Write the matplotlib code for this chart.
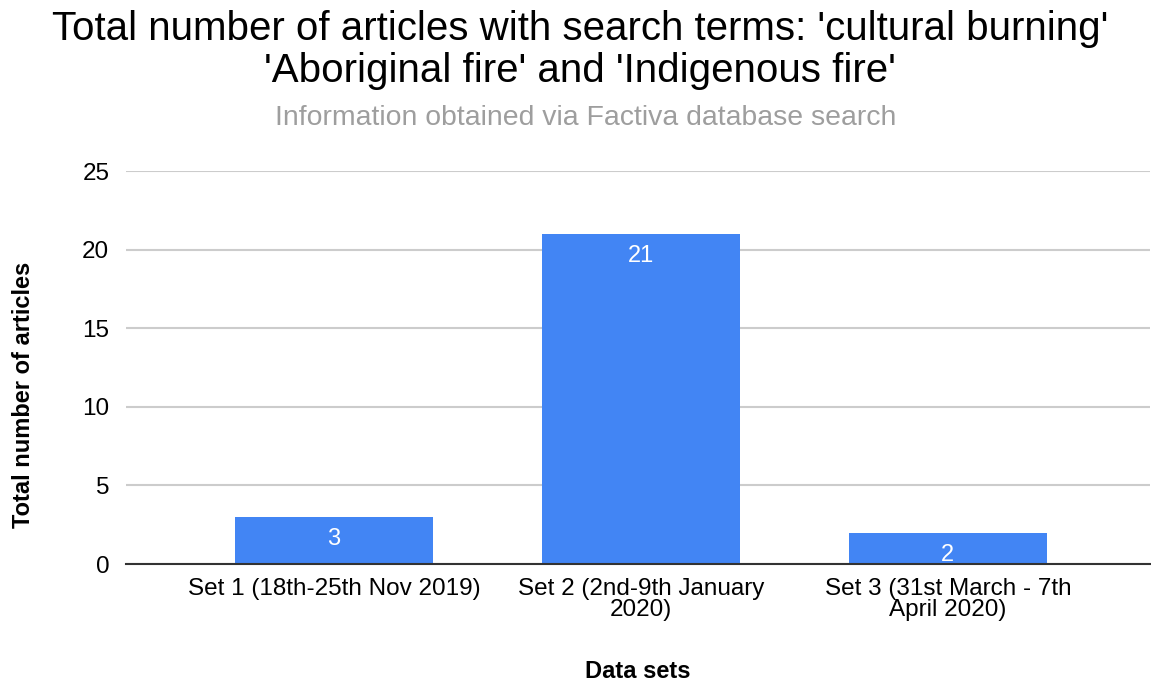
import matplotlib.pyplot as plt

plt.rcParams['font.family'] = ['Liberation Sans', 'DejaVu Sans']

# Article counts per search period
data_sets = ['Set 1 (18th-25th Nov 2019)',
             'Set 2 (2nd-9th January\n2020)',
             'Set 3 (31st March - 7th\nApril 2020)']
articles = [3, 21, 2]
y_ticks = [0, 5, 10, 15, 20, 25]

fig = plt.figure(figsize=(11.51, 6.86), dpi=100)
ax = fig.add_axes([0.1095, 0.1778, 0.89, 0.5729])

x = list(range(len(data_sets)))
bars = ax.bar(x, articles, width=0.647, color='#4285F4', zorder=3)

for rect, val in zip(bars, articles):
    ax.text(rect.get_x() + rect.get_width() / 2, val - 1.4, str(val),
            ha='center', va='center', color='white', fontsize=17, zorder=4)

ax.set_xlim(-0.678, 2.66)
ax.set_ylim(0, 25)
ax.set_yticks(y_ticks)
ax.set_xticks(x)
ax.set_xticklabels(data_sets, fontsize=17.5, linespacing=0.95)
ax.tick_params(axis='y', labelsize=17.5, length=0, pad=12)
ax.tick_params(axis='x', length=0, pad=10)

ax.grid(axis='y', color='#cccccc', linewidth=1.5, zorder=0)
for side in ['top', 'right', 'left']:
    ax.spines[side].set_visible(False)
ax.spines['bottom'].set_color('#333333')
ax.spines['bottom'].set_linewidth(1.5)
ax.spines['bottom'].set_zorder(5)

ax.set_xlabel('Data sets', fontsize=17, fontweight='bold', labelpad=28)
ax.set_ylabel('Total number of articles', fontsize=17, fontweight='bold')
ax.yaxis.set_label_coords(-0.0885, 0.43)

fig.text(0.504, 0.985, "Total number of articles with search terms: 'cultural burning'\n"
         "'Aboriginal fire' and 'Indigenous fire'",
         ha='center', va='top', fontsize=29, linespacing=1.14)
fig.text(0.509, 0.828, 'Information obtained via Factiva database search',
         ha='center', va='center', fontsize=20.4, color='#9e9e9e')

plt.savefig('out.png')
plt.close()
